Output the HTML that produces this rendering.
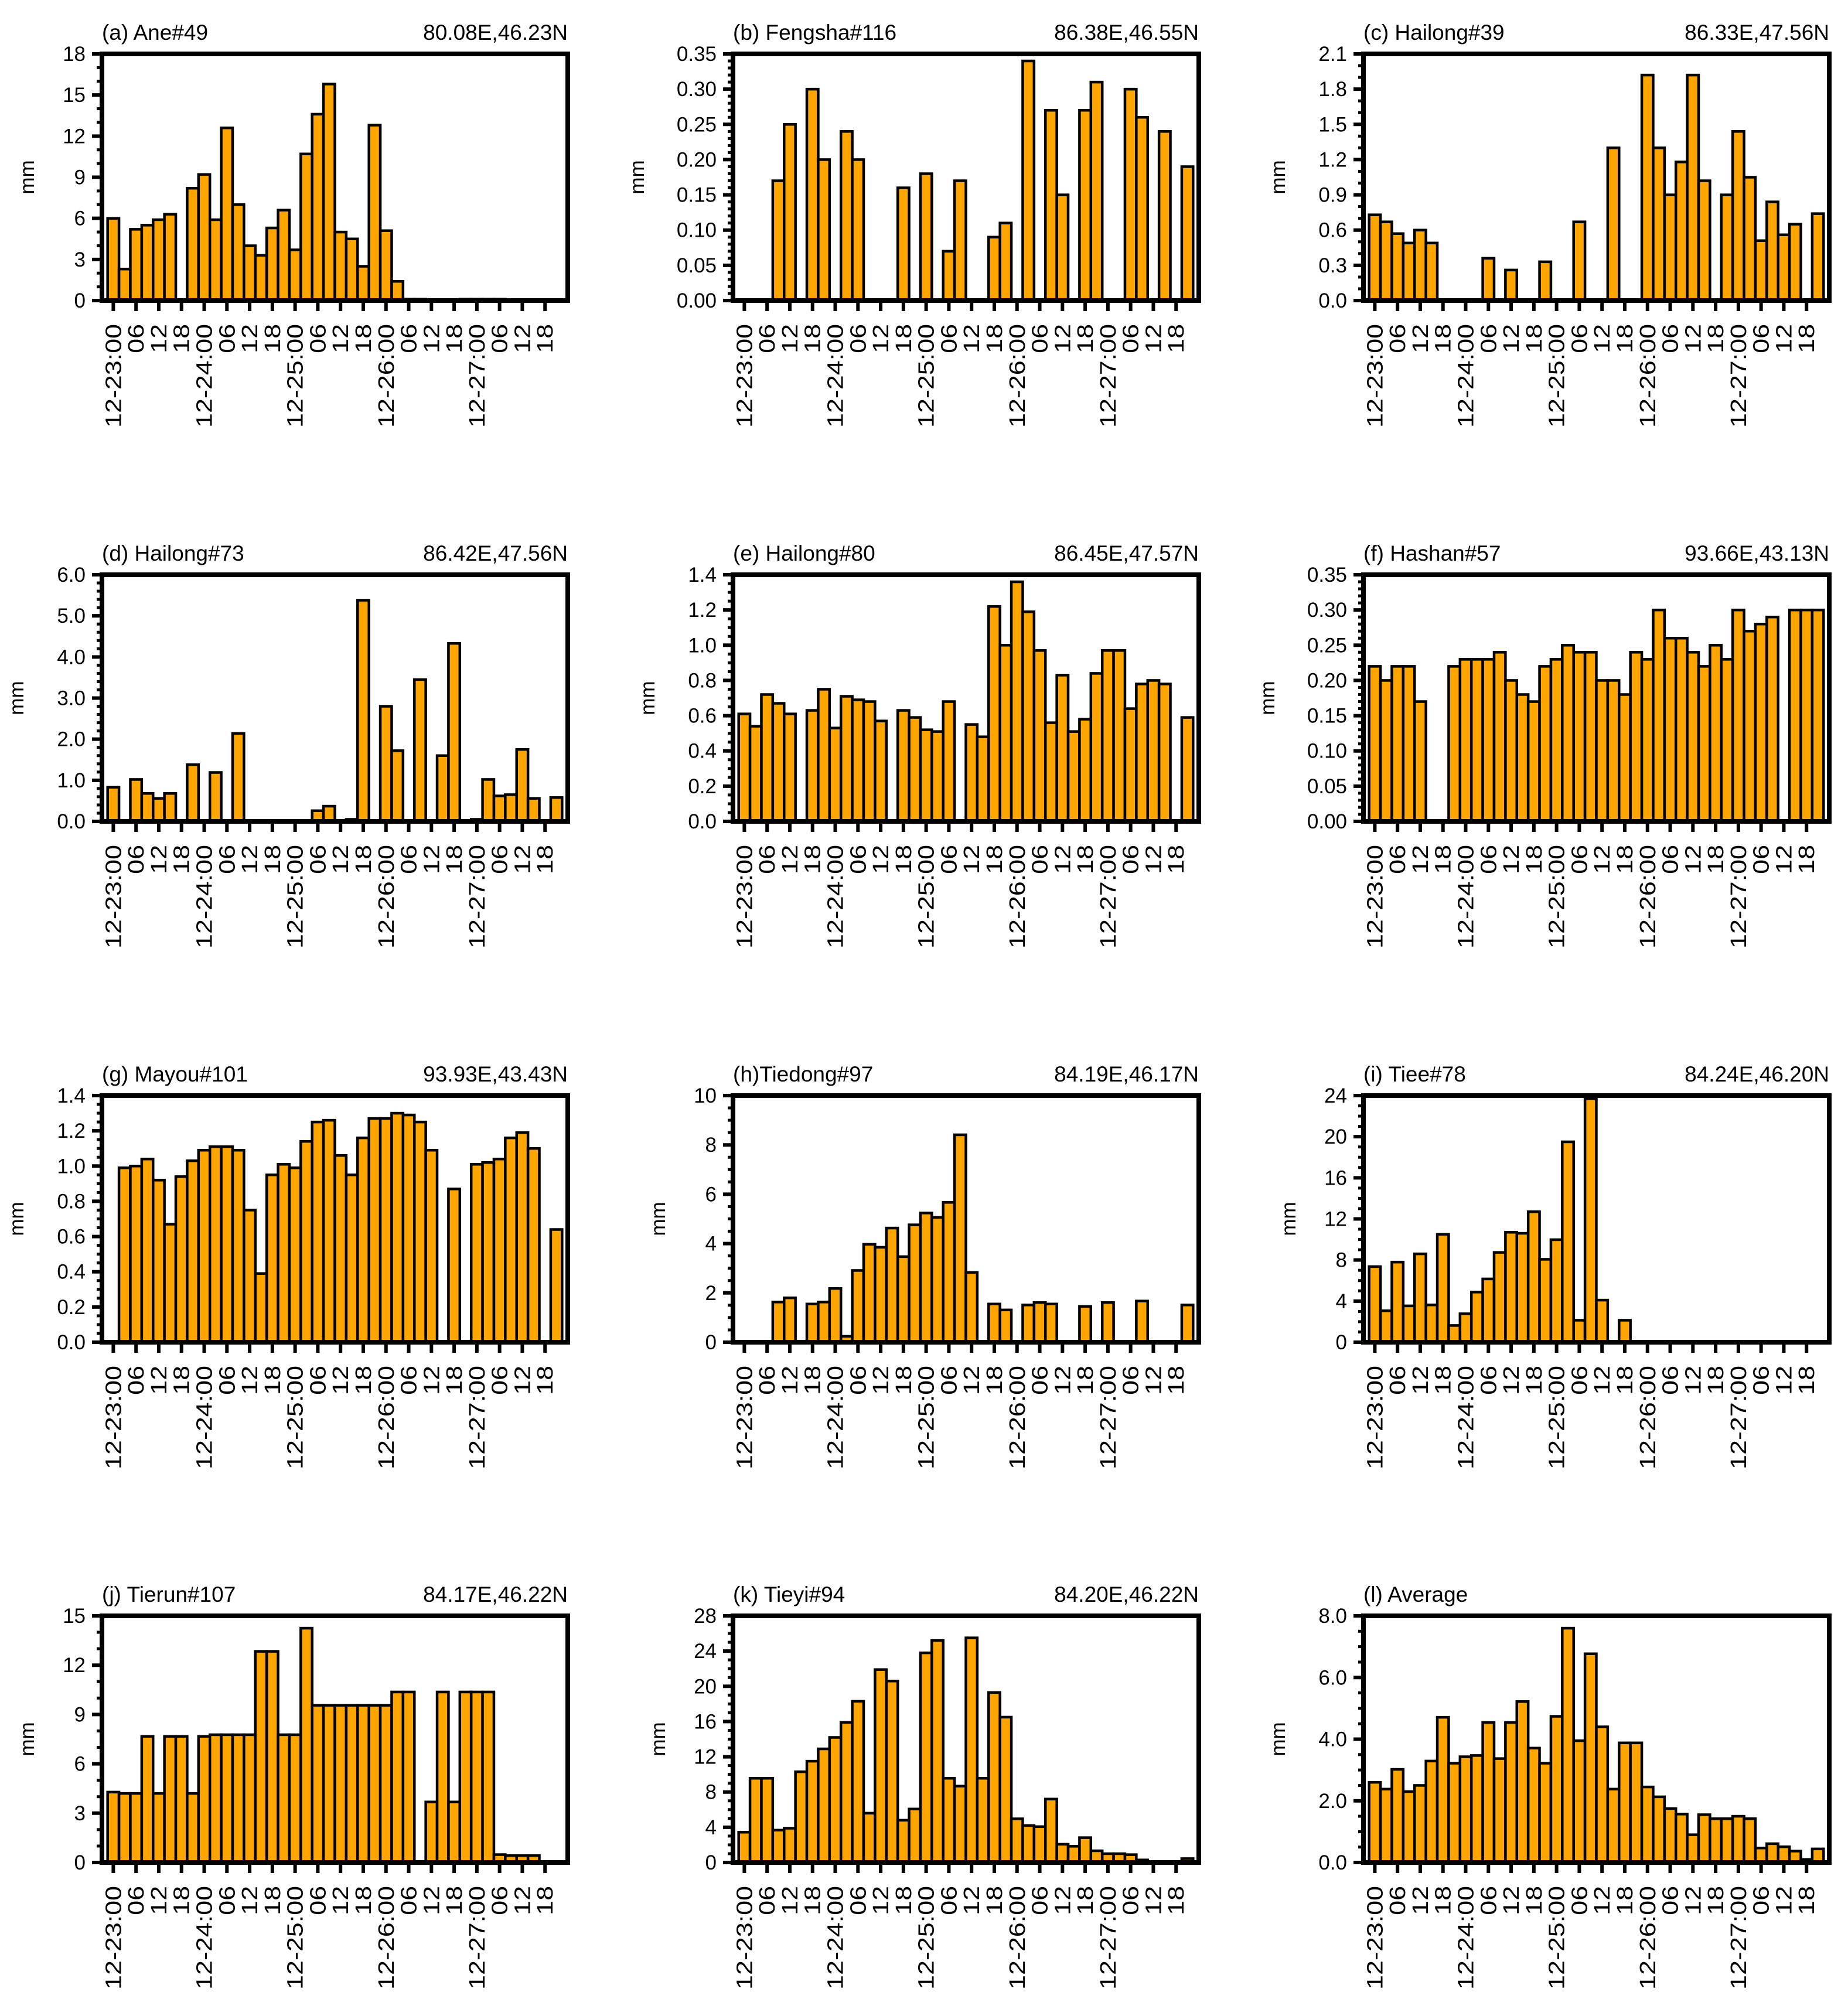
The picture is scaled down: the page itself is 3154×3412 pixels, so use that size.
<!DOCTYPE html>
<html>
<head>
<meta charset="utf-8">
<style>
  html, body { margin: 0; padding: 0; background: #ffffff; }
  #chart { display: block; }
  text { font-family: "Liberation Sans", "DejaVu Sans", sans-serif; fill: #000; }
</style>
</head>
<body>
<svg id="chart" width="3154" height="3412" viewBox="0 0 3154 3412" xmlns="http://www.w3.org/2000/svg"></svg>
<script>
// ---- data ----
const xTickLabels = ["12-23:00","06","12","18","12-24:00","06","12","18","12-25:00","06","12","18","12-26:00","06","12","18","12-27:00","06","12","18"];

const valuesA = [6.0,2.3,5.2,5.5,5.9,6.3,0,8.2,9.2,5.9,12.6,7.0,4.0,3.3,5.3,6.6,3.7,10.7,13.6,15.8,5.0,4.5,2.5,12.8,5.1,1.4,0.1,0.1,0,0,0,0.1,0.1,0.1,0.1,0,0,0,0,0];
const valuesB = [0,0,0,0.17,0.25,0,0.30,0.20,0,0.24,0.20,0,0,0,0.16,0,0.18,0,0.07,0.17,0,0,0.09,0.11,0,0.34,0,0.27,0.15,0,0.27,0.31,0,0,0.30,0.26,0,0.24,0,0.19];
const valuesC = [0.73,0.67,0.57,0.49,0.60,0.49,0,0,0,0,0.36,0,0.26,0,0,0.33,0,0,0.67,0,0,1.30,0,0,1.92,1.30,0.90,1.18,1.92,1.02,0,0.90,1.44,1.05,0.51,0.84,0.56,0.65,0,0.74];
const valuesD = [0.83,0,1.02,0.68,0.56,0.68,0,1.38,0,1.19,0,2.14,0,0,0,0,0,0,0.26,0.37,0,0.05,5.38,0,2.80,1.72,0,3.45,0,1.60,4.33,0,0.05,1.02,0.62,0.65,1.75,0.56,0,0.58];
const valuesE = [0.61,0.54,0.72,0.67,0.61,0,0.63,0.75,0.53,0.71,0.69,0.68,0.57,0,0.63,0.59,0.52,0.51,0.68,0,0.55,0.48,1.22,1.00,1.36,1.19,0.97,0.56,0.83,0.51,0.58,0.84,0.97,0.97,0.64,0.78,0.80,0.78,0,0.59];
const valuesF = [0.22,0.20,0.22,0.22,0.17,0,0,0.22,0.23,0.23,0.23,0.24,0.20,0.18,0.17,0.22,0.23,0.25,0.24,0.24,0.20,0.20,0.18,0.24,0.23,0.30,0.26,0.26,0.24,0.22,0.25,0.23,0.30,0.27,0.28,0.29,0,0.30,0.30,0.30];
const valuesG = [0,0.99,1.00,1.04,0.92,0.67,0.94,1.03,1.09,1.11,1.11,1.09,0.75,0.39,0.95,1.01,0.99,1.14,1.25,1.26,1.06,0.95,1.16,1.27,1.27,1.30,1.29,1.25,1.09,0,0.87,0,1.01,1.02,1.04,1.16,1.19,1.10,0,0.64];
const valuesH = [0,0,0,1.63,1.80,0,1.55,1.63,2.18,0.24,2.91,3.97,3.85,4.63,3.47,4.76,5.24,5.06,5.67,8.41,2.83,0,1.55,1.31,0,1.51,1.61,1.55,0,0,1.45,0,1.61,0,0,1.67,0,0,0,1.51];
const valuesI = [7.36,3.06,7.8,3.54,8.6,3.63,10.5,1.63,2.77,4.88,6.16,8.74,10.7,10.6,12.7,8.07,9.98,19.5,2.14,23.7,4.1,0,2.14,0.1,0.05,0.03,0.03,0.1,0.1,0.1,0.03,0.03,0.03,0.1,0.03,0.1,0.03,0.05,0,0];
const valuesJ = [4.28,4.2,4.2,7.67,4.2,7.67,7.67,4.2,7.67,7.77,7.77,7.77,7.77,12.84,12.84,7.77,7.77,14.25,9.56,9.56,9.56,9.56,9.56,9.56,9.56,10.37,10.37,0,3.68,10.37,3.68,10.37,10.37,10.37,0.48,0.42,0.42,0.42,0.03,0.03];
const valuesK = [3.44,9.56,9.56,3.67,3.89,10.3,11.5,12.9,14.2,15.9,18.3,5.6,21.9,20.6,4.8,6.07,23.8,25.2,9.56,8.67,25.5,9.56,19.3,16.5,4.96,4.2,4.07,7.2,2.07,1.84,2.82,1.33,1.0,1.0,0.89,0.29,0,0,0,0.44];
const valuesL = [2.6,2.38,3.02,2.3,2.5,3.29,4.71,3.22,3.43,3.47,4.54,3.37,4.54,5.22,3.71,3.22,4.74,7.6,3.95,6.77,4.4,2.38,3.88,3.88,2.45,2.13,1.75,1.57,0.9,1.55,1.42,1.42,1.5,1.42,0.47,0.61,0.51,0.37,0.1,0.44];

const panelTitles = ["(a) Ane#49","(b) Fengsha#116","(c) Hailong#39","(d) Hailong#73","(e) Hailong#80","(f) Hashan#57","(g) Mayou#101","(h)Tiedong#97","(i) Tiee#78","(j) Tierun#107","(k) Tieyi#94","(l) Average"];
const panelCoords = ["80.08E,46.23N","86.38E,46.55N","86.33E,47.56N","86.42E,47.56N","86.45E,47.57N","93.66E,43.13N","93.93E,43.43N","84.19E,46.17N","84.24E,46.20N","84.17E,46.22N","84.20E,46.22N",""];
const panelSeries = [valuesA,valuesB,valuesC,valuesD,valuesE,valuesF,valuesG,valuesH,valuesI,valuesJ,valuesK,valuesL];
const yAxisMax = [18,0.35,2.1,6.0,1.4,0.35,1.4,10,24,15,28,8.0];
const yAxisStep = [3,0.05,0.3,1.0,0.2,0.05,0.2,2,4,3,4,2.0];
const yAxisDecimals = [0,2,1,1,1,2,1,0,0,0,0,1];
const yMinorPerMajor = [3,5,3,5,4,5,4,4,4,3,4,4];

// ---- layout ----
const NS = "http://www.w3.org/2000/svg";
const svg = document.getElementById("chart");
const colLeft = [174, 1251, 2327];
const rowTop = [92, 981, 1870, 2758];
const plotW = 795, plotH = 421;
const FONT = 35;

function mk(tag, attrs, parent) {
  const e = document.createElementNS(NS, tag);
  for (const k in attrs) e.setAttribute(k, attrs[k]);
  (parent || svg).appendChild(e);
  return e;
}

panelSeries.forEach((vals, p) => {
  const L = colLeft[p % 3], T = rowTop[Math.floor(p / 3)];
  const B = T + plotH, R = L + plotW;
  const ymax = yAxisMax[p];
  const slot = plotW / 41;
  const xScale = i => L + (i + 1) * slot;
  const yScale = v => B - (v / ymax) * plotH;
  const letter = "abcdefghijkl"[p];

  const g = mk("g", {});
  
  

  const t1 = mk("text", { x: L, y: T - 24, "font-size": 37 }, g);
  t1.textContent = panelTitles[p];
  
  
  if (panelCoords[p]) {
    const t2 = mk("text", { x: R, y: T - 24, "font-size": 37, "text-anchor": "end" }, g);
    t2.textContent = panelCoords[p];
    
    
  }

  vals.forEach((v, i) => {
    if (!v) return;
    const x0 = xScale(i) - slot / 2;
    const yTop = yScale(v);
    const r = mk("rect", { x: x0, y: yTop, width: slot, height: B - yTop, fill: "#ffa500", stroke: "#000", "stroke-width": 4.5 }, g);
    
    
  });

  const step = yAxisStep[p];
  const nMaj = Math.round(ymax / step);
  const minorN = yMinorPerMajor[p];
  for (let k = 0; k <= nMaj * minorN; k++) {
    const v = k * step / minorN;
    const y = yScale(v);
    const major = k % minorN === 0;
    mk("line", { x1: L - (major ? 17 : 9), x2: L, y1: y, y2: y, stroke: "#000", "stroke-width": major ? 6 : 5 }, g);
    if (major) {
      const lab = mk("text", { x: L - 28, y: y + 12, "font-size": FONT, "text-anchor": "end" }, g);
      lab.textContent = v.toFixed(yAxisDecimals[p]);
      
      
    }
  }
  const chars = ymax.toFixed(yAxisDecimals[p]).length;
  const mx = L - 80 - 18 * chars;
  const my = (T + B) / 2;
  const mm = mk("text", { x: mx, y: my, "font-size": FONT, "text-anchor": "middle", transform: `rotate(-90 ${mx} ${my})` }, g);
  mm.textContent = "mm";
  
  

  xTickLabels.forEach((lbl, k) => {
    const x = xScale(2 * k);
    mk("line", { x1: x, x2: x, y1: B, y2: B + 18, stroke: "#000", "stroke-width": 6 }, g);
    const ty = B + 40;
    const tl = mk("text", { x: 0, y: 0, "font-size": 38, "text-anchor": "end", transform: `translate(${x + 13} ${ty}) rotate(-90) scale(1.18 1)` }, g);
    tl.textContent = lbl;
    
    
  });

  const fr = mk("rect", { x: L, y: T, width: plotW, height: plotH, fill: "none", stroke: "#000", "stroke-width": 8 }, g);
  
  
});
</script>
</body>
</html>
